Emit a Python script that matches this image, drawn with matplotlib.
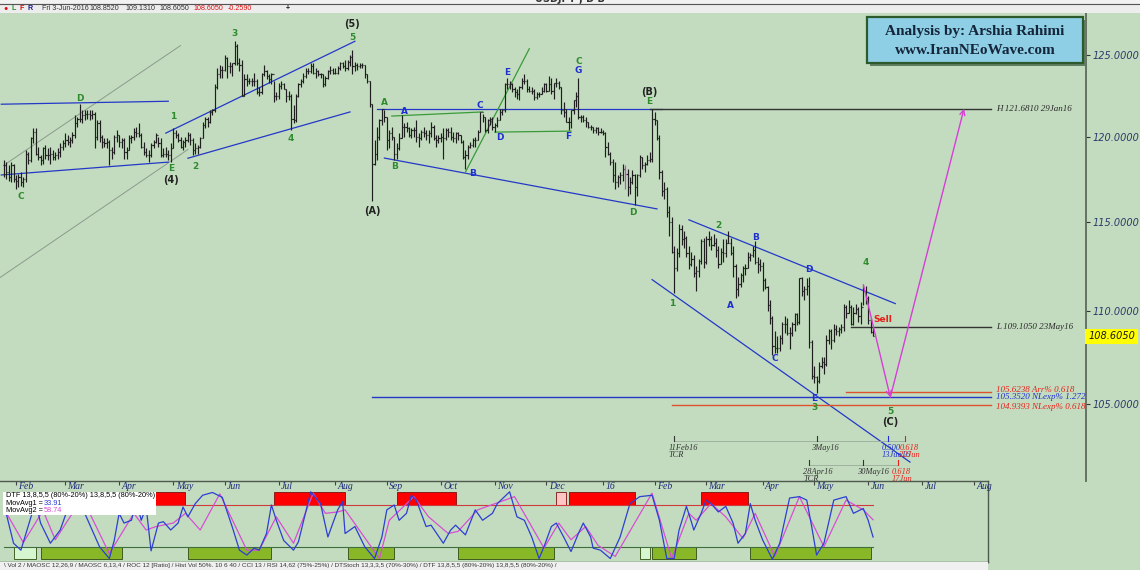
import numpy as np
import matplotlib
matplotlib.use("Agg")
import matplotlib.pyplot as plt
from matplotlib.patches import Rectangle
from matplotlib.ticker import NullLocator

START = "2015-01-26"   # first bar on the chart


def bar(d):
    # business-day bar number of a date (same counting as the chart)
    return int(np.busday_count(START, d))


# ---------------- daily USDJPY bars, 26-Jan-2015 .. 3-Jun-2016 ----------------
highs = [
    118.6, 118.5, 118.3, 118.5, 118.4,
    117.7, 117.8, 117.9, 117.6, 119.2, 119.1, 120.0, 120.5, 120.5, 119.4, 118.9, 119.4, 119.5, 119.3, 119.4, 119.2, 119.1, 119.3, 119.6, 119.8,
    120.2, 120.1, 120.0, 120.3, 121.3, 121.2, 122.0, 121.6, 121.6, 121.6, 121.6, 121.6, 121.5, 121.0, 121.0, 120.1, 119.9, 119.9, 119.8, 119.4, 120.1, 120.4,
    120.1, 119.9, 119.9, 119.4, 120.1, 120.1, 120.5, 120.6, 120.8, 120.2, 119.7, 119.3, 119.2, 119.6, 119.8, 120.2, 120.0, 119.9, 119.3, 119.4, 119.2, 119.6,
    120.5, 120.4, 120.2, 120.0, 119.8, 120.0, 120.3, 120.2, 119.9, 119.6, 119.5, 120.0, 120.9, 121.2, 121.2, 121.6, 121.7, 123.2, 124.2, 124.4, 124.3,
    125.0, 124.9, 124.6, 124.5, 125.9, 125.7, 124.8, 124.7, 123.8, 123.8, 123.6, 123.6, 123.9, 123.5, 123.0, 123.9, 124.4, 124.1, 123.8, 123.9, 123.4, 122.7,
    123.3, 123.4, 123.3, 122.9, 122.8, 122.6, 121.9, 122.6, 123.3, 123.5, 123.9, 124.2, 124.2, 124.5, 124.5, 124.2, 124.1, 123.9, 123.8, 123.7, 124.1, 124.3, 124.2,
    124.2, 124.3, 124.6, 124.6, 124.7, 124.7, 125.0, 125.3, 124.6, 124.5, 124.5, 124.5, 124.4, 123.8, 123.4, 122.0, 119.8, 120.6, 121.1, 121.7, 121.6,
    121.2, 120.4, 120.6, 120.0, 119.6, 120.2, 121.3, 120.8, 120.9, 120.6, 120.5, 120.6, 121.0, 120.2, 120.4, 120.6, 120.4, 120.4, 120.9, 120.7, 120.1, 120.1,
    120.2, 120.5, 120.5, 120.5, 120.6, 120.3, 120.3, 120.3, 120.1, 119.8, 119.2, 119.5, 119.7, 119.9, 120.0, 120.4, 121.5, 121.4, 121.2, 121.1, 121.2, 121.2,
    120.8, 121.2, 121.7, 121.7, 123.3, 123.6, 123.4, 123.3, 123.0, 122.9, 123.1, 123.6, 123.8, 123.5, 123.1, 123.0, 122.9, 122.7, 122.7, 123.0, 123.3,
    123.3, 123.7, 123.6, 123.3, 123.6, 123.4, 123.0, 122.1, 121.7, 121.2, 121.6, 122.2, 122.7, 123.6, 121.3, 121.3, 121.2, 120.9, 120.7, 120.6, 120.6, 120.6, 120.5,
    120.4, 120.3, 119.7, 119.1, 118.7, 118.5, 117.7, 117.9, 118.4, 118.3, 118.1, 117.6, 118.0, 117.8, 117.8, 118.9, 118.8, 118.5, 118.9, 119.1, 121.7,
    121.5, 121.0, 120.1, 118.0, 117.3, 117.0, 115.9, 115.3, 113.6, 113.5, 114.9, 114.8, 114.5, 114.2, 113.6, 113.3, 113.1, 112.5, 112.9, 114.0, 114.1,
    114.2, 114.5, 114.2, 114.3, 114.1, 113.6, 113.5, 114.0, 114.0, 114.5, 114.1, 113.6, 112.6, 111.9, 112.1, 112.5, 112.6, 113.3, 113.2, 113.6, 113.9, 113.0, 112.9,
    112.7, 111.8, 111.4, 110.6, 109.7, 108.9, 108.6, 108.7, 109.4, 109.7, 109.6, 109.1, 109.4, 109.9, 109.9, 111.8, 111.9, 111.4, 111.8, 111.9, 108.4,
    107.0, 106.5, 107.2, 107.5, 107.5, 108.7, 109.0, 109.0, 109.3, 109.2, 109.1, 109.3, 110.4, 110.3, 110.6, 110.3, 110.2, 110.4, 110.2, 110.5, 111.45, 111.4,
    110.8, 109.6, 109.131,
]
lows = [
    117.6, 117.5, 117.4, 117.3, 117.3,
    116.9, 117.0, 117.1, 117.0, 117.3, 118.4, 118.5, 119.6, 118.9, 118.6, 118.3, 118.4, 118.7, 118.6, 118.4, 118.6, 118.6, 118.7, 118.8, 119.2,
    119.4, 119.5, 119.4, 119.6, 119.9, 120.6, 120.9, 120.8, 121.0, 121.1, 121.0, 121.1, 119.3, 119.8, 119.7, 119.3, 119.4, 119.3, 118.3, 118.7, 119.0, 119.7,
    119.4, 119.3, 118.7, 118.7, 119.2, 119.6, 119.8, 120.0, 120.0, 119.3, 118.9, 118.8, 118.5, 118.8, 119.3, 119.6, 119.4, 118.8, 118.8, 118.8, 118.6, 118.5,
    119.3, 119.9, 119.7, 119.3, 119.2, 119.4, 119.7, 119.5, 118.9, 119.0, 119.0, 119.3, 119.9, 120.5, 120.6, 120.8, 121.3, 121.5, 122.9, 123.6, 123.6,
    124.0, 123.6, 123.9, 123.7, 124.4, 124.4, 124.0, 122.5, 122.5, 123.1, 123.2, 123.1, 123.1, 122.6, 122.5, 122.6, 123.7, 123.5, 123.3, 123.2, 122.1, 122.2,
    122.3, 122.9, 122.9, 122.1, 122.2, 120.4, 120.8, 120.9, 122.4, 123.0, 123.3, 123.6, 123.8, 123.9, 123.8, 123.6, 123.7, 123.6, 123.0, 123.1, 123.5, 123.8, 123.8,
    123.8, 123.8, 124.1, 124.2, 124.0, 124.1, 124.3, 123.8, 124.0, 124.1, 124.2, 124.2, 123.6, 123.3, 121.8, 116.2, 118.3, 118.6, 119.8, 120.7, 120.9,
    119.2, 119.3, 119.8, 118.6, 118.7, 119.2, 119.9, 120.0, 120.3, 120.0, 119.9, 120.0, 119.7, 119.4, 119.8, 120.0, 119.8, 119.6, 120.0, 119.8, 119.4, 119.6,
    119.7, 118.7, 119.8, 120.0, 119.8, 119.7, 119.6, 119.8, 119.6, 118.7, 118.1, 118.7, 119.3, 119.4, 119.4, 119.8, 120.3, 120.9, 120.3, 120.2, 120.7, 120.4,
    120.3, 120.6, 121.0, 121.3, 121.5, 122.9, 122.9, 122.7, 122.4, 122.3, 122.2, 122.9, 123.2, 122.7, 122.7, 122.6, 122.2, 122.3, 122.4, 122.6, 122.7,
    122.7, 122.8, 122.6, 122.3, 123.0, 122.9, 121.4, 121.2, 120.9, 120.4, 120.5, 121.4, 121.8, 121.1, 120.9, 120.9, 120.6, 120.5, 120.4, 120.2, 120.2, 120.1, 120.2,
    120.1, 118.8, 118.9, 118.3, 117.3, 116.9, 117.0, 117.2, 117.4, 116.9, 116.5, 116.6, 117.2, 115.98, 116.5, 117.6, 118.1, 117.9, 118.3, 118.5, 118.5,
    120.7, 119.8, 117.5, 116.5, 116.3, 115.3, 114.2, 113.2, 111.0, 112.2, 113.0, 113.7, 113.5, 113.0, 112.3, 112.5, 111.9, 111.1, 111.9, 112.6, 112.4,
    112.6, 113.6, 113.4, 113.6, 113.0, 112.4, 112.6, 112.7, 113.0, 113.8, 113.1, 111.9, 110.7, 110.8, 111.3, 111.6, 112.0, 112.4, 112.8, 113.0, 112.6, 112.1, 112.2,
    111.1, 111.2, 110.0, 109.3, 107.6, 107.7, 107.7, 107.8, 108.2, 108.8, 108.7, 107.9, 108.6, 108.9, 109.2, 109.3, 110.8, 110.6, 110.9, 108.0, 106.3,
    106.1, 105.55, 106.1, 106.9, 106.6, 107.0, 108.2, 107.9, 108.3, 108.7, 108.6, 108.8, 108.9, 109.6, 109.9, 109.2, 109.2, 109.8, 109.4, 109.3, 110.3, 110.4,
    109.3, 108.8, 108.605,
]
closes = [
    118.3, 117.9, 117.6, 118.3, 117.5,
    117.4, 117.6, 117.3, 117.5, 119.0, 118.6, 119.9, 120.3, 119.0, 118.8, 118.6, 119.3, 118.9, 118.9, 119.0, 118.8, 118.9, 119.1, 119.4, 119.6,
    119.8, 119.7, 119.8, 120.1, 120.8, 121.1, 121.1, 121.3, 121.4, 121.4, 121.3, 121.4, 120.0, 120.8, 120.0, 119.7, 119.6, 119.7, 119.2, 119.1, 120.0, 120.1,
    119.7, 119.8, 119.1, 119.2, 119.9, 120.0, 120.3, 120.2, 120.1, 119.4, 119.1, 118.9, 118.9, 119.5, 119.7, 120.1, 119.6, 118.9, 119.0, 119.0, 118.9, 119.3,
    120.2, 120.1, 119.8, 119.4, 119.7, 119.8, 120.1, 119.8, 119.2, 119.3, 119.4, 119.9, 120.7, 121.1, 120.9, 121.5, 121.6, 123.0, 123.8, 124.1, 124.1,
    124.8, 124.3, 124.3, 124.5, 125.6, 124.5, 124.4, 122.5, 123.5, 123.4, 123.4, 123.4, 123.4, 122.7, 122.7, 123.8, 124.0, 123.7, 123.5, 123.8, 122.5, 122.5,
    123.1, 123.2, 122.9, 122.5, 122.5, 121.1, 121.0, 122.5, 123.2, 123.4, 123.7, 124.0, 124.0, 124.3, 123.9, 124.0, 123.8, 123.8, 123.2, 123.6, 124.0, 124.1, 123.9,
    123.9, 124.2, 124.5, 124.3, 124.2, 124.6, 124.9, 124.3, 124.4, 124.3, 124.4, 124.4, 123.8, 123.4, 122.0, 118.4, 119.0, 120.0, 121.0, 121.7, 121.2,
    119.8, 120.2, 120.0, 119.0, 119.3, 119.9, 120.6, 120.6, 120.5, 120.1, 120.4, 120.4, 120.0, 119.9, 120.3, 120.2, 120.1, 120.2, 120.6, 119.9, 119.8, 119.9,
    120.0, 119.9, 120.4, 120.3, 120.0, 119.9, 120.2, 120.1, 119.7, 118.8, 118.9, 119.4, 119.5, 119.8, 119.8, 120.3, 121.5, 121.2, 120.4, 121.0, 121.1, 120.6,
    120.7, 121.0, 121.5, 121.6, 123.2, 123.2, 123.2, 122.9, 122.7, 122.6, 123.0, 123.4, 123.4, 122.9, 122.8, 122.8, 122.4, 122.6, 122.6, 122.8, 123.2,
    122.8, 123.2, 122.8, 123.3, 123.3, 123.0, 121.6, 121.5, 120.9, 120.9, 121.6, 122.2, 122.5, 121.2, 121.2, 121.0, 120.9, 120.6, 120.6, 120.4, 120.5, 120.3, 120.3,
    120.2, 119.4, 119.0, 118.5, 117.7, 117.3, 117.6, 117.7, 118.1, 117.8, 117.0, 117.3, 117.7, 117.0, 117.7, 118.8, 118.3, 118.4, 118.6, 118.7, 121.1,
    121.0, 119.9, 117.9, 116.8, 116.9, 115.6, 115.0, 113.3, 112.4, 113.2, 114.6, 114.0, 114.1, 113.2, 112.6, 112.9, 112.1, 112.2, 112.8, 113.9, 112.7,
    114.0, 114.0, 113.7, 113.8, 113.4, 112.6, 113.3, 113.2, 113.8, 113.8, 113.2, 112.5, 111.2, 111.5, 112.0, 112.4, 112.4, 113.0, 113.1, 113.4, 112.7, 112.6, 112.5,
    111.7, 111.3, 110.3, 109.6, 108.1, 108.0, 108.0, 108.5, 109.3, 109.3, 108.8, 108.8, 109.3, 109.8, 109.4, 111.8, 111.1, 111.2, 111.4, 108.3, 106.5,
    106.4, 106.2, 107.0, 107.2, 107.1, 108.4, 108.9, 108.4, 109.0, 108.9, 109.0, 109.1, 110.2, 109.9, 110.2, 109.3, 109.9, 110.1, 109.7, 110.2, 111.1, 110.7,
    109.5, 108.852, 108.605,
]
highlight_day = "2016-01-14"     # bar painted magenta on the chart

# ---------------- Elliott wave labels (date, price, text, colour key) ----------------
wave_labels = [
    ("2015-02-04", 116.45, "C", "g"), ("2015-03-10", 122.34, "D", "g"),
    ("2015-04-30", 118.14, "E", "g"), ("2015-04-30", 117.43, "(4)", "k"),
    ("2015-05-01", 121.25, "1", "g"), ("2015-05-14", 118.26, "2", "g"),
    ("2015-06-05", 126.38, "3", "g"), ("2015-07-08", 119.92, "4", "g"),
    ("2015-08-12", 126.13, "5", "g"), ("2015-08-12", 126.95, "(5)", "k"),
    ("2015-08-31", 122.10, "A", "g"), ("2015-08-24", 115.63, "(A)", "k"),
    ("2015-09-04", 118.26, "B", "g"), ("2015-09-10", 121.55, "A", "b"),
    ("2015-10-20", 117.84, "B", "b"), ("2015-10-23", 121.91, "C", "b"),
    ("2015-11-04", 119.98, "D", "b"), ("2015-11-09", 123.93, "E", "b"),
    ("2015-12-14", 120.04, "F", "b"), ("2015-12-18", 124.63, "C", "g"),
    ("2015-12-18", 124.07, "G", "b"), ("2016-01-28", 122.72, "(B)", "k"),
    ("2016-01-28", 122.15, "E", "g"), ("2016-01-19", 115.57, "D", "g"),
    ("2016-02-10", 110.40, "1", "g"), ("2016-03-08", 114.82, "2", "g"),
    ("2016-03-15", 110.29, "A", "b"), ("2016-03-29", 114.09, "B", "b"),
    ("2016-04-08", 107.41, "C", "b"), ("2016-04-28", 112.29, "D", "b"),
    ("2016-05-31", 112.68, "4", "g"), ("2016-05-02", 105.29, "E", "b"),
    ("2016-05-02", 104.81, "3", "g"), ("2016-06-14", 104.60, "5", "g"),
    ("2016-06-14", 104.03, "(C)", "k"), ("2016-06-09", 109.52, "Sell", "r"),
]

# ---------------- trend lines (date0, price0, date1, price1, colour key) ----------------
trend_lines = [
    ("2015-01-27", 118.40, "2015-05-06", 125.60, "grey"),
    ("2015-01-22", 111.80, "2015-05-11", 119.24, "grey"),
    ("2015-01-23", 121.97, "2015-04-29", 122.15, "b"),
    ("2015-01-23", 117.73, "2015-04-29", 118.49, "b"),
    ("2015-04-28", 120.22, "2015-08-13", 125.87, "b"),
    ("2015-05-11", 118.72, "2015-08-11", 121.50, "b"),
    ("2015-08-26", 121.68, "2016-02-04", 121.68, "b"),
    ("2015-08-31", 118.73, "2016-02-02", 115.75, "b"),
    ("2015-09-03", 121.25, "2015-10-26", 121.50, "g"),
    ("2015-11-02", 120.28, "2015-12-15", 120.34, "g"),
    ("2015-10-15", 117.90, "2015-11-20", 125.40, "g"),
    ("2016-02-19", 115.12, "2016-06-16", 110.40, "b"),
    ("2016-01-29", 111.73, "2016-06-24", 101.99, "b"),
]

# ---------------- horizontal levels (start date, price, colour key, label) ----------------
level_end = "2016-08-10"
levels = [
    ("2016-01-28", 121.681, "k", "H 121.6810 29Jan16"),
    ("2016-05-23", 109.105, "k", "L 109.1050 23May16"),
    ("2016-05-19", 105.6238, "r", "105.6238 Arr% 0.618"),
    ("2015-08-24", 105.352, "b", "105.3520 NLexp% 1.272"),
    ("2016-02-10", 104.9393, "r", "104.9393 NLexp% 0.618"),
]

# projected path: wave 4 -> wave 5 -> back to the (B) high
projection = [("2016-05-30", 111.45), ("2016-06-14", 105.35), ("2016-07-26", 121.70)]

# time-cycle markers (date, text, colour key); two rows
tcr_row1_price = 103.09
tcr_row1 = [("2016-02-11", "11Feb16\nTCR", "k"), ("2016-05-03", "3May16", "k"),
            ("2016-06-13", "0.500\n13Jun16", "b"), ("2016-06-22", "0.618\n22Jun", "r")]
tcr_row2_price = 101.86
tcr_row2 = [("2016-04-28", "28Apr16\nTCR", "k"), ("2016-05-30", "30May16", "k"),
            ("2016-06-17", "0.618\n17Jun", "r")]

price_ticks = [105, 110, 115, 120, 125]
last_price = 108.605

# ---------------- DTF oscillator (bar number, value) ----------------
fast_bars = [1, 4, 7, 13, 15, 19, 23, 28, 33, 39, 43, 45, 47, 49, 52, 54, 56, 58, 60, 63, 65, 68, 71, 73,
             75, 78, 81, 85, 89, 93, 96, 99, 102, 104, 107, 109, 111, 114, 118, 120, 125, 129, 132, 136,
             138, 139, 143, 147, 151, 154, 156, 159, 161, 164, 166, 168, 172, 174, 179, 182, 184, 188,
             192, 195, 199, 201, 206, 209, 212, 215, 218, 220, 223, 225, 228, 231, 234, 236, 239, 240,
             243, 247, 251, 255, 259, 264, 267, 270, 273, 275, 278, 280, 281, 284, 286, 288, 291, 294,
             297, 299, 302, 304, 306, 309, 313, 316, 320, 324, 327, 329, 331, 334, 338, 343, 346, 350,
             352, 354]
fast_vals = [68, 25, 15, 85, 54, 25, 44, 94, 68, 20, 3, 29, 68, 54, 58, 85, 58, 77, 14, 54, 56, 44, 54, 77,
             63, 82, 94, 98, 91, 49, 15, 8, 18, 15, 39, 80, 58, 29, 15, 27, 99, 82, 34, 73,
             85, 39, 49, 20, 3, 34, 73, 80, 58, 68, 94, 87, 49, 51, 25, 44, 51, 37,
             73, 58, 68, 82, 99, 63, 58, 34, 3, 20, 49, 54, 34, 13, 39, 54, 34, 18,
             15, 3, 34, 82, 92, 94, 58, 3, 3, 44, 78, 56, 44, 68, 87, 82, 70, 78,
             54, 25, 39, 82, 58, 30, 2, 25, 90, 92, 87, 49, 8, 25, 87, 92, 68, 75,
             58, 33.91]
slow_bars = [0, 8, 16, 21, 32, 43, 53, 58, 62, 69, 74, 80, 88, 99, 104, 111, 118, 126, 131, 136, 139,
             153, 157, 167, 173, 181, 185, 193, 208, 220, 226, 231, 237, 242, 249, 264, 272, 279, 282,
             288, 294, 301, 306, 314, 324, 334, 343, 350, 354]
slow_vals = [75, 26, 72, 30, 90, 10, 68, 44, 49, 54, 68, 44, 96, 15, 15, 63, 25, 97, 68, 70, 73,
             3, 58, 92, 63, 39, 42, 73, 92, 18, 54, 30, 49, 22, 6, 97, 3, 68, 58,
             82, 63, 32, 68, 6, 92, 20, 87, 73, 58.74]
overbought_zones = [(50, 74), (110, 139), (160, 184), (230, 257), (284, 303)]
overbought_weak = [(225, 229)]
oversold_zones = [(15, 48), (75, 109), (140, 159), (185, 224), (264, 282), (304, 353)]
oversold_weak = [(4, 13), (259, 263)]

month_labels = ["Feb", "Mar", "Apr", "May", "Jun", "Jul", "Aug", "Sep", "Oct", "Nov", "Dec", "16",
                "Feb", "Mar", "Apr", "May", "Jun", "Jul", "Aug"]
month_firsts = ["2015-02", "2015-03", "2015-04", "2015-05", "2015-06", "2015-07", "2015-08", "2015-09",
                "2015-10", "2015-11", "2015-12", "2016-01", "2016-02", "2016-03", "2016-04", "2016-05",
                "2016-06", "2016-07", "2016-08"]

# ---------------- styling ----------------
BG = "#c3dcbf"
BAR = "#1e1e1e"
COL = {"g": "#2e8b2e", "b": "#1f30d0", "k": "#222222", "r": "#e8201a",
       "grey": "#8f9f8f", "mag": "#d63fd6"}
LINE = {"g": "#3a9a3a", "b": "#2438c8", "grey": "#8c9a8c", "k": "#333333", "r": "#e0502c"}
SERIF = "Liberation Serif"
SANS = "DejaVu Sans"
W, H = 1140, 570

fig = plt.figure(figsize=(11.4, 5.7), dpi=100, facecolor=BG)
ax = fig.add_axes([0, 1 - 481 / H, 1086 / W, 468 / H], facecolor=BG)
ax2 = fig.add_axes([0, 1 - 562 / H, 988 / W, 81 / H], facecolor=BG)

# ---- price bars ----
n = len(closes)
xb = np.arange(n)
hi = np.array(highs)
lo = np.array(lows)
cl = np.array(closes)
op = np.r_[cl[0], cl[:-1]]
bar_cols = [BAR] * n
bar_cols[bar(highlight_day)] = COL["mag"]
ax.vlines(xb, lo, hi, colors=bar_cols, lw=0.85, zorder=3)
ax.hlines(op, xb - 0.45, xb, colors=bar_cols, lw=0.85, zorder=3)
ax.hlines(cl, xb, xb + 0.45, colors=bar_cols, lw=0.85, zorder=3)

ax.set_yscale("log")
ax.set_ylim(101.03, 127.66)
ax.set_xlim(-1.515, 440.67)
ax.xaxis.set_major_locator(NullLocator())
ax.yaxis.tick_right()
ax.set_yticks(price_ticks, labels=[f"{v:.4f}" for v in price_ticks], fontsize=7,
              fontstyle="italic", color="#2b3a6b")
ax.yaxis.set_minor_locator(NullLocator())
ax.tick_params(axis="y", direction="out", length=3, pad=2, color="#333333")
for s in ("top", "left", "bottom"):
    ax.spines[s].set_visible(False)
ax.spines["right"].set_color("#5d6b5d")
ax.spines["right"].set_linewidth(1.3)

# ---- trend lines ----
for d0, p0, d1, p1, c in trend_lines:
    ax.plot([bar(d0), bar(d1)], [p0, p1], color=LINE[c], lw=0.9 if c != "grey" else 0.7, zorder=2)

# ---- horizontal levels with right-hand labels ----
for d0, p, c, txt in levels:
    ax.plot([bar(d0), bar(level_end)], [p, p], color=LINE[c], lw=1.0, zorder=2)
offs = {"105.6238": 0.12, "104.9393": -0.08}
for d0, p, c, txt in levels:
    ty = p + offs.get(txt.split()[0], 0)
    ax.text(bar(level_end) + 2, ty, txt, fontsize=6.5, family=SERIF, fontstyle="italic",
            color=COL[c] if c != "k" else "#2a2a2a", ha="left", va="center", zorder=4)

# ---- projected path ----
for (da, pa), (db, pb) in zip(projection[:-1], projection[1:]):
    ax.annotate("", xy=(bar(db), pb), xytext=(bar(da), pa),
                arrowprops=dict(arrowstyle="->", color=COL["mag"], lw=1.0, mutation_scale=9,
                                shrinkA=0, shrinkB=0), zorder=4)

# ---- wave labels ----
for d, p, t, c in wave_labels:
    ax.text(bar(d), p, t, color=COL[c], fontsize=6.5 if c != "k" else 7, fontweight="bold",
            family=SANS, ha="center", va="center", zorder=5)

# ---- time-cycle markers ----
for row_p, row in ((tcr_row1_price, tcr_row1), (tcr_row2_price, tcr_row2)):
    xs = [bar(d) for d, _, _ in row]
    ax.plot([min(xs), max(xs)], [row_p, row_p], color="#9aab9a", lw=0.6, zorder=2)
    for (d, t, c), xx in zip(row, xs):
        ax.plot([xx, xx], [row_p, row_p * 1.0022], color=COL[c] if c != "k" else "#333", lw=0.8)
        ax.text(xx - 2.4, row_p * 0.9985, t, fontsize=6, family=SERIF, fontstyle="italic",
                color=COL[c] if c != "k" else "#333", ha="left", va="top", linespacing=0.95,
                zorder=5)

# ---- last price tag ----
ax.text(1.002, last_price, f"{last_price:.4f}", transform=ax.get_yaxis_transform(),
        fontsize=7, fontstyle="italic", color="#1a1a1a", ha="left", va="center",
        bbox=dict(fc="#ffff00", ec="none", pad=2.0), clip_on=False, zorder=6)

# ---------------- oscillator panel ----------------
ax2.set_xlim(-1.515, 400.8)
ax2.set_ylim(-2.0, 114.5)
for a, b in overbought_zones:
    ax2.add_patch(Rectangle((a, 80), b - a, 18, fc="#ff0000", ec="#7a1010", lw=0.6, zorder=2))
for a, b in overbought_weak:
    ax2.add_patch(Rectangle((a, 80), b - a, 18, fc="#ffc4c4", ec="#7a1010", lw=0.6, zorder=2))
for a, b in oversold_zones:
    ax2.add_patch(Rectangle((a, 2), b - a, 18, fc="#88b828", ec="#2f4a10", lw=0.6, zorder=2))
for a, b in oversold_weak:
    ax2.add_patch(Rectangle((a, 2), b - a, 18, fc="#d6f6cf", ec="#2f4a10", lw=0.6, zorder=2))
ax2.plot([0, n - 1], [80, 80], color="#d03a3a", lw=0.8, zorder=3)
ax2.plot([0, n - 1], [20, 20], color="#3f6f3f", lw=0.8, zorder=3)
ax2.plot(slow_bars, slow_vals, color="#d64fd6", lw=0.9, zorder=4)
ax2.plot(fast_bars, fast_vals, color="#2c3fd4", lw=0.9, zorder=5)

# label box
ax2.add_patch(Rectangle((0.003, 0.58), 0.155, 0.285, transform=ax2.transAxes, fc="white",
                        ec="none", zorder=6))
ax2.text(0.006, 0.823, "DTF 13,8,5,5 (80%-20%) 13,8,5,5 (80%-20%)", transform=ax2.transAxes,
         fontsize=5.3, family="Liberation Sans", va="center", zorder=7)
ax2.text(0.006, 0.728, "MovAvg1 = ", transform=ax2.transAxes, fontsize=5.3,
         family="Liberation Sans", va="center", zorder=7)
ax2.text(0.044, 0.728, f"{fast_vals[-1]:.2f}", transform=ax2.transAxes, fontsize=5.3,
         family="Liberation Sans", va="center", color="#2c3fd4", zorder=7)
ax2.text(0.006, 0.634, "MovAvg2 = ", transform=ax2.transAxes, fontsize=5.3,
         family="Liberation Sans", va="center", zorder=7)
ax2.text(0.044, 0.634, f"{slow_vals[-1]:.2f}", transform=ax2.transAxes, fontsize=5.3,
         family="Liberation Sans", va="center", color="#d64fd6", zorder=7)

# month axis along the top of the oscillator panel
mpos = [int(np.busday_count(START, np.busday_offset(m + "-01", 0, roll="forward")))
        for m in month_firsts]
ax2.xaxis.tick_top()
ax2.set_xticks(mpos, labels=[""] * len(mpos))
ax2.yaxis.set_major_locator(NullLocator())
ax2.tick_params(axis="x", direction="in", length=3, color="#444444")
for p, lbl in zip(mpos, month_labels):
    ax2.text(p + 1.0, 106.2, lbl, fontsize=7, family=SERIF, fontstyle="italic",
             color="#1c2a7a", ha="left", va="center", zorder=7)
for s in ("top", "right", "bottom"):
    ax2.spines[s].set_color("#4d5a4d")
    ax2.spines[s].set_linewidth(1.0)
ax2.spines["left"].set_visible(False)

# ---------------- header strip ----------------
def fx(px):
    return px / W


def fy(py):
    return 1 - py / H


fig.add_artist(Rectangle((0, fy(3.5)), 1, 3.5 / H, transform=fig.transFigure,
                         fc="#f2f2f2", ec="none"))
fig.add_artist(Rectangle((0, fy(13)), 1, 9.5 / H, transform=fig.transFigure,
                         fc="#ededed", ec="none"))
fig.add_artist(plt.Line2D([0, 1], [fy(3.6), fy(3.6)], transform=fig.transFigure,
                          color="#555555", lw=0.8))
fig.text(0.5, fy(-1.5), "USDJPY , D B", ha="center", va="center", fontsize=7,
         fontweight="bold", color="#333")
head = [(3, "\u25cf", "#e01010", "normal"), (11, "L", "#2e8b2e", "bold"),
        (19, "F", "#d01010", "bold"), (27, "R", "#1a1a8a", "bold"),
        (42, "Fri 3-Jun-2016", "#333", "normal"), (90, "108.8520", "#333", "normal"),
        (126, "109.1310", "#333", "normal"), (160, "108.6050", "#333", "normal"),
        (194, "108.6050", "#e01010", "normal"), (228, "-0.2590", "#e01010", "normal"),
        (286, "+", "#111", "bold")]
for px, t, c, w in head:
    fig.text(fx(px), fy(8.5), t, fontsize=5.1, color=c, fontweight=w,
             family="Liberation Sans", ha="left", va="center")

# ---------------- author box ----------------
fig.add_artist(Rectangle((fx(870), fy(66)), 216 / W, 46 / H, transform=fig.transFigure,
                         fc="#5f7f5f", ec="none", zorder=5))
fig.add_artist(Rectangle((fx(867), fy(63)), 216 / W, 46 / H, transform=fig.transFigure,
                         fc="#8ecfe6", ec="#2d5a2d", lw=1.6, zorder=6))
fig.text(fx(975), fy(31), "Analysis by: Arshia Rahimi", ha="center", va="center",
         fontsize=11, fontweight="bold", family=SERIF, color="#15253a", zorder=7)
fig.text(fx(975), fy(50), "www.IranNEoWave.com", ha="center", va="center",
         fontsize=11, fontweight="bold", family=SERIF, color="#15253a", zorder=7)

# ---------------- indicator tab strip ----------------
fig.add_artist(Rectangle((0, 0), 988 / W, 8 / H, transform=fig.transFigure,
                         fc="#f0f0f0", ec="none"))
fig.text(fx(4), fy(566), "\\ Vol 2 / MAOSC 12,26,9 / MAOSC 6,13,4 / ROC 12 [Ratio] / Hist Vol 50%. "
         "10 6 40 / CCI 13 / RSI 14,62 (75%-25%) / DTStoch 13,3,3,5 (70%-30%) / "
         "DTF 13,8,5,5 (80%-20%) 13,8,5,5 (80%-20%) /", fontsize=4.6, family="Liberation Sans",
         color="#333", ha="left", va="center")

fig.savefig("out.png", dpi=100, facecolor=BG)
